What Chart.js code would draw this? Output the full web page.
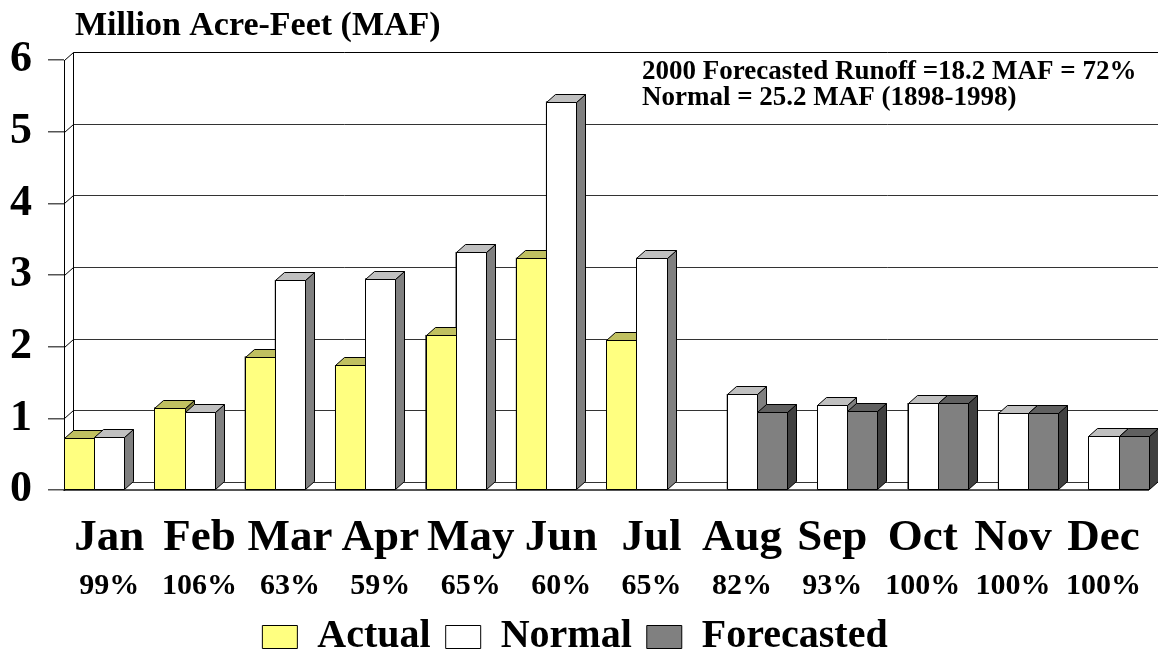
<!DOCTYPE html>
<html>
<head>
<meta charset="utf-8">
<script src="https://cdn.jsdelivr.net/npm/chart.js@4.4.1/dist/chart.umd.min.js"></script>
<style>
  html, body { margin: 0; padding: 0; background: #ffffff; overflow: hidden; }
  #wrap { position: relative; width: 1158px; height: 667px; }
</style>
</head>
<body>
<div id="wrap"><canvas id="runoff"></canvas></div>
<script>
// Monthly runoff, million acre-feet
const months = ['Jan', 'Feb', 'Mar', 'Apr', 'May', 'Jun', 'Jul', 'Aug', 'Sep', 'Oct', 'Nov', 'Dec'];
const percentOfNormal = ['99%', '106%', '63%', '59%', '65%', '60%', '65%', '82%', '93%', '100%', '100%', '100%'];
const actual = [0.73, 1.15, 1.86, 1.74, 2.16, 3.24, 2.09, null, null, null, null, null];
const normal = [0.74, 1.09, 2.93, 2.95, 3.32, 5.42, 3.24, 1.34, 1.18, 1.21, 1.08, 0.75];
const forecasted = [null, null, null, null, null, null, null, 1.09, 1.10, 1.21, 1.08, 0.75];
const yTickValues = [0, 1, 2, 3, 4, 5, 6];

const titleText = 'Million Acre-Feet (MAF)';
const noteLines = ['2000 Forecasted Runoff =18.2 MAF = 72%', 'Normal = 25.2 MAF (1898-1998)'];

const SERIF = "'Liberation Serif', 'Times New Roman', serif";
const DX = 9;   // depth offset to the right
const DY = 8;   // depth offset upwards

// face shades for each series: front, top, side
const faces = [
  { front: '#FFFF80', top: '#C0C060', side: '#808040' },
  { front: '#FFFFFF', top: '#C0C0C0', side: '#808080' },
  { front: '#808080', top: '#606060', side: '#404040' }
];

function poly(ctx, pts, fill) {
  ctx.beginPath();
  ctx.moveTo(pts[0][0], pts[0][1]);
  for (let k = 1; k < pts.length; k++) ctx.lineTo(pts[k][0], pts[k][1]);
  ctx.closePath();
  ctx.fillStyle = fill;
  ctx.fill();
  ctx.stroke();
}

// back wall, side wall and the solid bar faces
const wallPlugin = {
  id: 'walls',
  beforeDatasetsDraw(chart) {
    const { ctx, chartArea: a, scales: { y } } = chart;
    ctx.save();
    ctx.lineWidth = 1;
    const L = Math.round(a.left) + 0.5;
    const R = Math.round(a.right) + 0.5;
    yTickValues.forEach(v => {
      const fy = Math.round(y.getPixelForValue(v)) + 0.5;
      ctx.strokeStyle = (v === 6) ? '#000000' : '#333333';
      ctx.beginPath();
      ctx.moveTo(L + DX, fy - DY);
      ctx.lineTo(R + DX, fy - DY);
      ctx.stroke();
      ctx.strokeStyle = '#000000';
      ctx.beginPath();
      ctx.moveTo(L, fy);
      ctx.lineTo(L + DX, fy - DY);
      ctx.stroke();
    });
    const top = Math.round(y.getPixelForValue(6)) + 0.5;
    const bot = Math.round(y.getPixelForValue(0)) + 0.5;
    ctx.strokeStyle = '#000000';
    ctx.beginPath();
    ctx.moveTo(L + DX, top - DY);
    ctx.lineTo(L + DX, bot - DY);
    ctx.stroke();
    ctx.restore();
  },
  afterDatasetsDraw(chart) {
    const { ctx } = chart;
    ctx.save();
    ctx.strokeStyle = '#000000';
    ctx.lineWidth = 1;
    ctx.lineJoin = 'miter';
    const n = chart.data.labels.length;
    for (let j = 0; j < n; j++) {
      chart.data.datasets.forEach((ds, i) => {
        if (ds.data[j] == null) return;
        const el = chart.getDatasetMeta(i).data[j];
        const l = Math.round(el.x - el.width / 2) + 0.5;
        const r = Math.round(el.x + el.width / 2) + 0.5;
        const t = Math.round(el.y) + 0.5;
        const b = Math.round(el.base) + 0.5;
        const f = faces[i];
        poly(ctx, [[r, t], [r + DX, t - DY], [r + DX, b - DY], [r, b]], f.side);
        poly(ctx, [[l, t], [l + DX, t - DY], [r + DX, t - DY], [r, t]], f.top);
        poly(ctx, [[l, t], [r, t], [r, b], [l, b]], f.front);
      });
    }
    ctx.restore();
  }
};

// heading and the runoff note
const textPlugin = {
  id: 'texts',
  afterDraw(chart) {
    const { ctx } = chart;
    ctx.save();
    ctx.fillStyle = '#000000';
    ctx.textBaseline = 'alphabetic';
    ctx.textAlign = 'left';
    ctx.font = 'bold 34px ' + SERIF;
    ctx.fillText(titleText, 75, 35);
    ctx.font = 'bold 27px ' + SERIF;
    ctx.fillText(noteLines[0], 642, 79);
    ctx.fillText(noteLines[1], 642, 105);
    ctx.restore();
  }
};

new Chart(document.getElementById('runoff'), {
  type: 'bar',
  data: {
    labels: months,
    datasets: [
      { label: 'Actual', data: actual, backgroundColor: faces[0].front, borderColor: '#000000', borderWidth: 1 },
      { label: 'Normal', data: normal, backgroundColor: faces[1].front, borderColor: '#000000', borderWidth: 1 },
      { label: 'Forecasted', data: forecasted, backgroundColor: faces[2].front, borderColor: '#000000', borderWidth: 1 }
    ]
  },
  options: {
    responsive: true,
    maintainAspectRatio: false,
    animation: false,
    devicePixelRatio: 1,
    layout: { padding: { top: 60, right: 8, left: 0, bottom: 0 } },
    datasets: { bar: { categoryPercentage: 1.0, barPercentage: 1.0 } },
    scales: {
      x: {
        type: 'category',
        position: 'bottom',
        offset: true,
        weight: 0,
        grid: { display: false },
        border: { display: true, color: '#555555', width: 2 },
        ticks: {
          autoSkip: false, maxRotation: 0, minRotation: 0,
          padding: 18, color: '#000000',
          font: { family: SERIF, size: 45, weight: 'bold', lineHeight: 1 }
        },
        afterFit: s => { s.height = 72; }
      },
      x2: {
        type: 'category',
        position: 'bottom',
        labels: percentOfNormal,
        offset: true,
        weight: 1,
        grid: { display: false },
        border: { display: false },
        ticks: {
          autoSkip: false, maxRotation: 0, minRotation: 0,
          padding: 1, color: '#000000',
          font: { family: SERIF, size: 30, weight: 'bold', lineHeight: 1 }
        },
        afterFit: s => { s.height = 40; }
      },
      y: {
        min: 0,
        max: 6,
        grid: { display: true, drawOnChartArea: false, drawTicks: true, tickLength: 16, color: '#555555', lineWidth: 1.5 },
        border: { display: true, color: '#000000', width: 1 },
        ticks: {
          stepSize: 1, padding: 16, color: '#000000',
          font: { family: SERIF, size: 44, weight: 'bold', lineHeight: 1 }
        },
        afterFit: s => { s.width = 64; }
      }
    },
    plugins: {
      legend: {
        display: true,
        position: 'bottom',
        labels: {
          boxWidth: 35, boxHeight: 23, padding: 15, color: '#000000',
          font: { family: SERIF, size: 40, weight: 'bold' }
        }
      },
      title: { display: false },
      tooltip: { enabled: false }
    }
  },
  plugins: [wallPlugin, textPlugin]
});
</script>
</body>
</html>
